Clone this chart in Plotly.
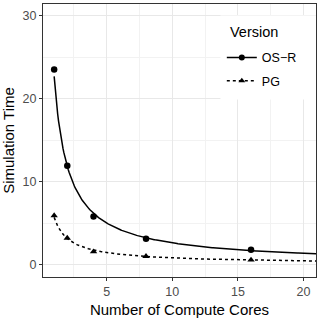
import numpy as np
import plotly.graph_objects as go

cores = [1, 2, 4, 8, 16]
osr_time = [23.5, 11.9, 5.8, 3.1, 1.78]
pg_time = [5.9, 3.2, 1.55, 1.0, 0.55]
series_names = ["OS\u2212R", "PG"]
legend_title = "Version"
x_ticks = [5, 10, 15, 20]
y_ticks = [0, 10, 20, 30]


def power_fit(x, y, xs):
    b, a = np.polyfit(np.log(x), np.log(y), 1)
    return np.exp(a) * np.power(xs, b)


xs = np.linspace(1, 21, 300)
fig = go.Figure()
styles = [("solid", "circle", osr_time), ("3px,3px", "triangle-up", pg_time)]
for name, (dash, sym, ys) in zip(series_names, styles):
    fig.add_trace(go.Scatter(x=xs, y=power_fit(cores, ys, xs), mode="lines",
                             line=dict(color="black", width=1.5, dash=dash),
                             showlegend=False, hoverinfo="skip"))
    fig.add_trace(go.Scatter(x=cores, y=ys, mode="markers",
                             marker=dict(color="black", size=6.5, symbol=sym),
                             showlegend=False))
    fig.add_trace(go.Scatter(x=[None], y=[None], mode="lines+markers", name=name,
                             legendgroup=name,
                             line=dict(color="black", width=1.5, dash=dash),
                             marker=dict(color="black", size=6, symbol=sym)))

axis_common = dict(showline=True, linecolor="#333333", linewidth=1, mirror=True,
                   ticks="outside", ticklen=3, tickcolor="#333333",
                   tickfont=dict(size=12.5, color="#4d4d4d", family="Liberation Sans, Arial"),
                   showgrid=True, gridcolor="#e8e8e8", gridwidth=1,
                   zeroline=False,
                   minor=dict(showgrid=True, gridcolor="#f2f2f2", gridwidth=0.6))

fig.update_xaxes(range=[0.15, 20.95], tickvals=x_ticks,
                 title=dict(text="Number of Compute Cores", standoff=6,
                            font=dict(size=15, color="black")),
                 **axis_common)
fig.update_xaxes(minor=dict(dtick=2.5, tick0=0))
fig.update_yaxes(range=[-1.5, 31.4], tickvals=y_ticks,
                 title=dict(text="Simulation Time", standoff=5,
                            font=dict(size=15, color="black")),
                 **axis_common)
fig.update_yaxes(minor=dict(dtick=5, tick0=0))

# legend box background (covers grid like ggplot's legend.background)
fig.add_shape(type="rect", xref="paper", yref="paper",
              x0=0.65, x1=1.0, y0=0.65, y1=0.958,
              fillcolor="white", line=dict(width=0), layer="above")
fig.add_annotation(text=legend_title, xref="paper", yref="paper",
                   x=0.679, y=0.898, xanchor="left", yanchor="middle",
                   showarrow=False, font=dict(size=14.5, color="black"))

fig.update_layout(
    width=320, height=319,
    margin=dict(l=43, r=3, t=3, b=41),
    paper_bgcolor="white", plot_bgcolor="white",
    font=dict(family="Liberation Sans, Arial", color="black"),
    legend=dict(x=0.655, xanchor="left", y=0.858, yanchor="top",
                bgcolor="rgba(0,0,0,0)", borderwidth=0, itemwidth=30,
                traceorder="grouped", tracegroupgap=4,
                font=dict(size=12.5)),
)
fig.write_html("out.html", config={"displayModeBar": False},
               post_script="document.body.style.margin='0';document.body.style.overflow='hidden';")
